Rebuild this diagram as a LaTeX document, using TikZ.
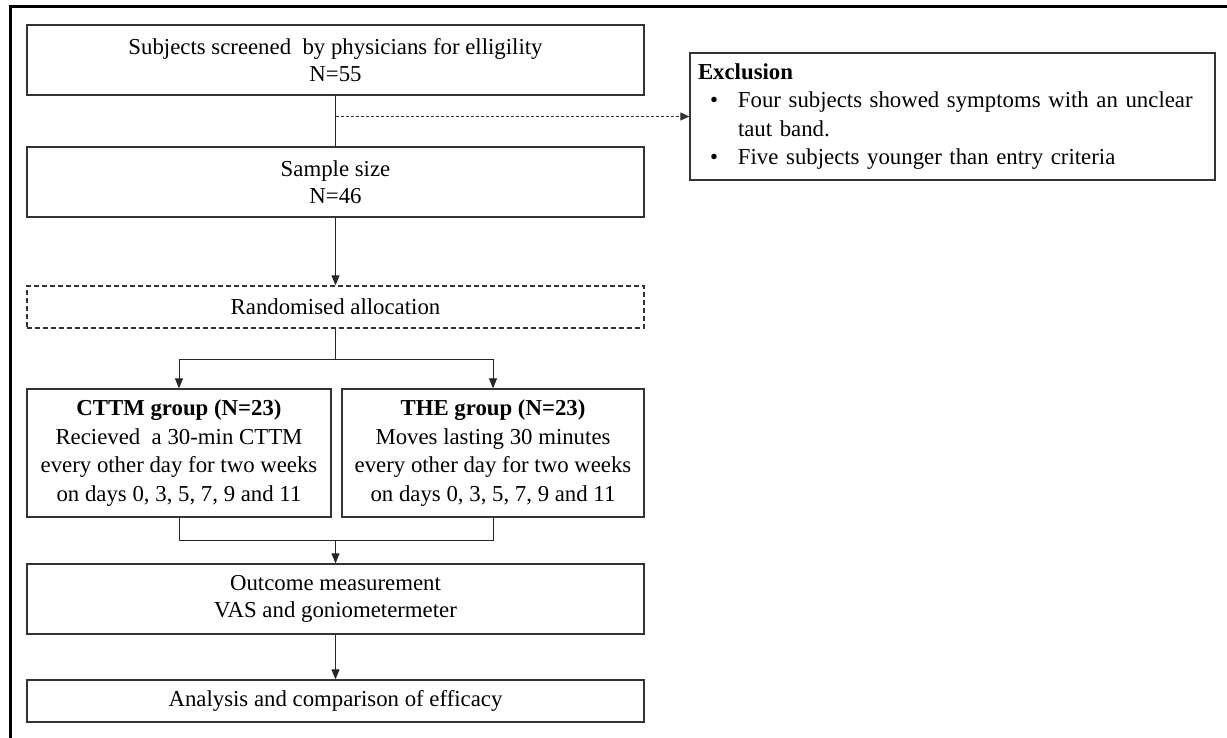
\documentclass[tikz,border=0pt]{standalone}
\usepackage{fontspec}
\setmainfont{Liberation Serif}
\usetikzlibrary{arrows.meta,calc}
\begin{document}
\begin{tikzpicture}[x=1pt,y=1pt,
  box/.style={draw=black!80,line width=1.3pt,minimum width=617pt,minimum height=70pt,
    inner sep=0pt,align=center,font=\fontsize{22.8}{27}\selectfont},
  halfbox/.style={box,minimum height=128pt,font=\fontsize{22.8}{28.5}\selectfont},
  arr/.style={draw=black!85,line width=1pt,-{Triangle[length=10pt,width=8pt]}},
  ln/.style={draw=black!85,line width=1pt},
  dasharr/.style={draw=black!80,line width=0.9pt,dash pattern=on 3pt off 2pt,-{Triangle[length=9pt,width=8pt]}}]
\useasboundingbox (0,0) rectangle (1227,-738);
\fill[white] (0,0) rectangle (1227,-738);
% frame
\draw[line width=3pt] (10,-738) -- (10,-7) -- (1227,-7);
% nodes
\node[box] (box1) at (335.5,-60) {Subjects screened\ \ by physicians for elligility\\N=55};
\node[box] (box2) at (335.5,-182) {Sample size\\N=46};
\node[box,minimum height=42pt,dash pattern=on 5pt off 3pt] (rand) at (335.5,-307) {Randomised allocation};
\node[halfbox,minimum width=304pt] (cttm) at (179,-453) {\textbf{CTTM group (N=23)}\\Recieved\ \ a 30-min CTTM\\every other day for two weeks\\on days 0, 3, 5, 7, 9 and 11};
\node[halfbox,minimum width=302pt] (the) at (493,-453) {\textbf{THE group (N=23)}\\Moves lasting 30 minutes\\every other day for two weeks\\on days 0, 3, 5, 7, 9 and 11};
\node[box] (outc) at (335.5,-599) {Outcome measurement\\VAS and goniometermeter};
\node[box,minimum height=42pt] (anal) at (335.5,-701) {Analysis and comparison of efficacy};
\node[draw=black!80,line width=1.3pt,minimum width=525pt,minimum height=127pt,inner xsep=8pt,inner ysep=0pt,
  text width=509pt,align=left,font=\fontsize{22.8}{28.5}\selectfont] (excl) at (952.5,-116.5)
  {\textbf{Exclusion}\\
   \makebox[40pt][l]{\hspace{12pt}•}Four subjects showed symptoms with an unclear\\
   \hspace*{40pt}taut band.\\
   \makebox[40pt][l]{\hspace{12pt}•}Five subjects younger than entry criteria};
% connectors
\coordinate (split) at (box1.south |- excl.west);
\coordinate (fork) at (335.5,-359);
\coordinate (join) at (335.5,-540);
\draw[ln] (box1.south) -- (box2.north);
\draw[dasharr] (split) -- (excl.west);
\draw[arr] (box2.south) -- (rand.north);
\draw[ln] (rand.south) -- (fork);
\draw[arr] (fork) -| (cttm.north);
\draw[arr] (fork) -| (the.north);
\draw[ln] (cttm.south) |- (join);
\draw[ln] (the.south) |- (join);
\draw[arr] (join) -- (outc.north);
\draw[arr] (outc.south) -- (anal.north);
\end{tikzpicture}
\end{document}
